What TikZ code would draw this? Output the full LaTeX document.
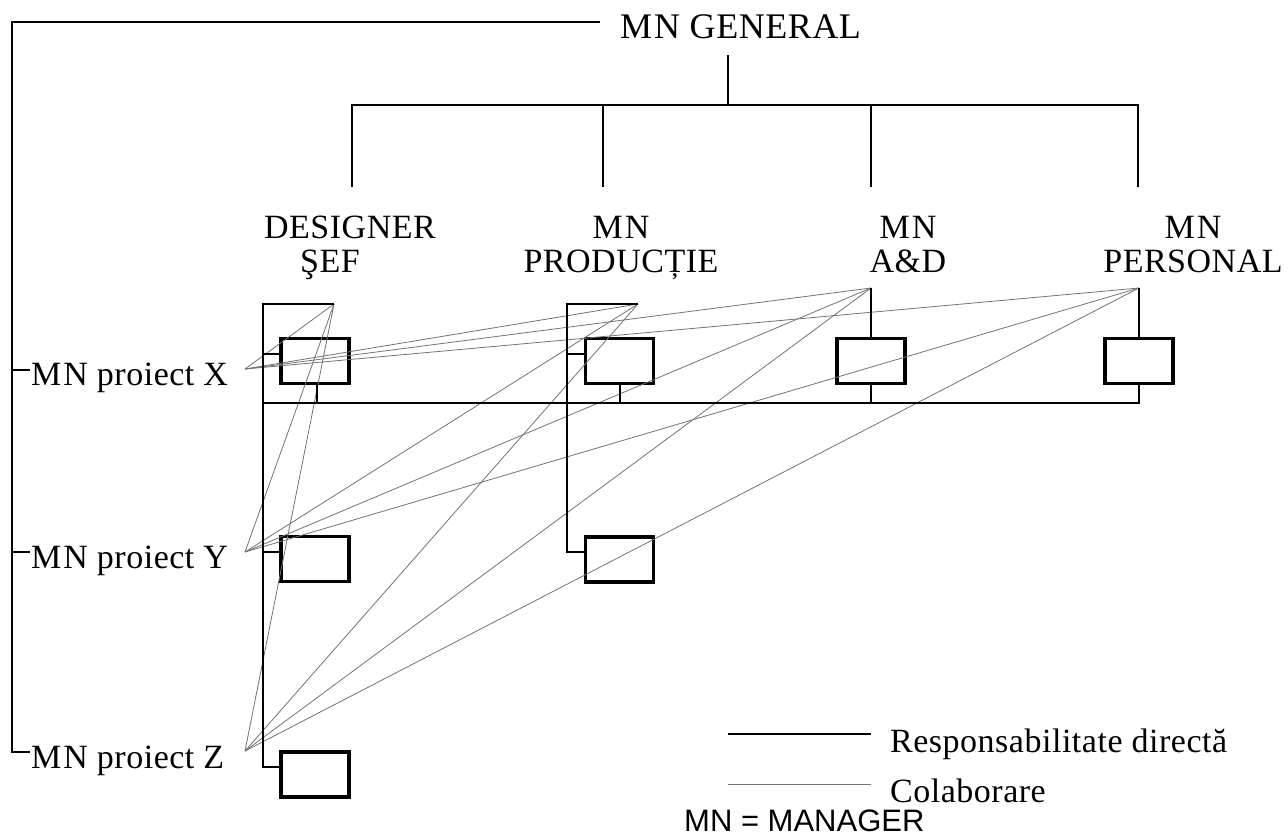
\documentclass[tikz,border=0pt]{standalone}
\usepackage{fontspec}
\setmainfont{Liberation Serif}[LetterSpace=1.5]
\newfontfamily\legendsans{Liberation Sans}
\newcommand\lblfont{\fontsize{34}{34}\selectfont}
\newcommand\genfont{\fontsize{36}{36}\selectfont}
\newcommand\MNtxt{M\kern2pt N}
\begin{document}
\begin{tikzpicture}[x=1pt,y=-1pt,line join=miter,
  resp/.style={draw=black,line width=2.7pt},
  collab/.style={draw=black!55,line width=0.8pt},
  unitbox/.style={draw=black,line width=3.3pt,minimum width=68pt,minimum height=45pt,inner sep=0pt},
  lbl/.style={anchor=base,inner sep=0pt,font=\lblfont},
  lblw/.style={anchor=base west,inner sep=0pt,font=\lblfont}]
\useasboundingbox (0,0) rectangle (1288,836);

% ---- titles ----
\node[anchor=base west,inner sep=0pt,font=\genfont] (gen) at (620,38) {\MNtxt{} GENERAL};
\node[lbl] (dsg1) at (350,238) {DESIGNER};
\node[lbl] (dsg2) at (330,272) {ŞEF};
\node[lbl] (prd1) at (621,238) {\MNtxt};
\node[lbl] (prd2) at (621,272) {PRODUCȚIE};
\node[lbl] (ad1) at (908,238) {\MNtxt};
\node[lbl] (ad2) at (908,272) {A\&D};
\node[lbl] (per1) at (1193,238) {\MNtxt};
\node[lbl] (per2) at (1193,272) {PERSONAL};
\node[lblw] (prX) at (31,385) {\MNtxt{} proiect X};
\node[lblw] (prY) at (31,568) {\MNtxt{} proiect Y};
\node[lblw] (prZ) at (31,768) {\MNtxt{} proiect Z};

% ---- unit boxes ----
\node[unitbox] (DX) at (315,361) {};
\node[unitbox] (PX) at (619.5,361) {};
\node[unitbox] (AX) at (871,361) {};
\node[unitbox] (EX) at (1139,361) {};
\node[unitbox] (DY) at (315,559) {};
\node[unitbox] (PY) at (619.5,559.5) {};
\node[unitbox] (DZ) at (315,774.5) {};

% ---- junction points ----
\coordinate (g0) at (728,55);
\coordinate (g1) at (728,105);
\coordinate (d0) at (352,187);
\coordinate (p0) at (603,187);
\coordinate (a0) at (871,187);
\coordinate (e0) at (1138,187);
\coordinate (genL) at (600,22);
\coordinate (lc) at (12,22);
\coordinate (lz) at (12,752);
\coordinate (tX) at (30,370);
\coordinate (tY) at (30,552);
\coordinate (tZ) at (30,752);
\coordinate (rowX) at (0,354);
\coordinate (rowY) at (0,552);
\coordinate (dTop) at (263,304);
\coordinate (dPiv) at (334,304);
\coordinate (dBot) at (263,767);
\coordinate (pTop) at (567,304);
\coordinate (pPiv) at (638,304);
\coordinate (aPiv) at (871,288);
\coordinate (ePiv) at (1139,288);
\coordinate (busL) at (263,403);
\coordinate (busR) at (1139,403);
\coordinate (dStub) at (317,403);
\coordinate (pStub) at (620,403);
\coordinate (aStub) at (871,403);
\coordinate (cX) at (245,369);
\coordinate (cY) at (245,552);
\coordinate (cZ) at (245,751);

% ---- collaboration lines ----
\foreach \s in {cX,cY,cZ}
  \foreach \t in {dPiv,pPiv,aPiv,ePiv}
    \draw[collab] (\s) -- (\t);

% ---- direct responsibility ----
\draw[resp] (g0) -- (g1);
\draw[resp] (d0) -- (d0 |- g1) -- (e0 |- g1) -- (e0);
\draw[resp] (p0 |- g1) -- (p0);
\draw[resp] (a0 |- g1) -- (a0);
\draw[resp] (genL) -- (lc) -- (lz) -- (tZ);
\draw[resp] (tX -| lc) -- (tX);
\draw[resp] (tY -| lc) -- (tY);

\draw[resp] (dPiv) -- (dTop) -- (dBot) -- (dBot -| DZ.west);
\draw[resp] (dTop |- rowX) -- (DX.west |- rowX);
\draw[resp] (dTop |- rowY) -- (DY.west |- rowY);

\draw[resp] (pPiv) -- (pTop) -- (pTop |- rowY) -- (PY.west |- rowY);
\draw[resp] (pTop |- rowX) -- (PX.west |- rowX);

\draw[resp] (aPiv) -- (AX.north);
\draw[resp] (ePiv) -- (EX.north);

\draw[resp] (busL) -- (busR) -- (EX.south);
\draw[resp] (dStub) -- (dStub |- DX.south);
\draw[resp] (pStub) -- (pStub |- PX.south);
\draw[resp] (aStub) -- (AX.south);

% ---- legend ----
\coordinate (lg1a) at (728,734);
\coordinate (lg1b) at (871,734);
\coordinate (lg2a) at (728,784);
\coordinate (lg2b) at (871,784);
\draw[resp,line width=2.9pt] (lg1a) -- (lg1b);
\draw[collab] (lg2a) -- (lg2b);
\node[lblw] (legR) at (890,752) {Responsabilitate directă};
\node[lblw] (legC) at (890,802) {Colaborare};
\node[anchor=base west,inner sep=0pt,font=\legendsans\fontsize{31}{31}\selectfont] (mgr) at (684,831) {MN = MANAGER};
\end{tikzpicture}
\end{document}
